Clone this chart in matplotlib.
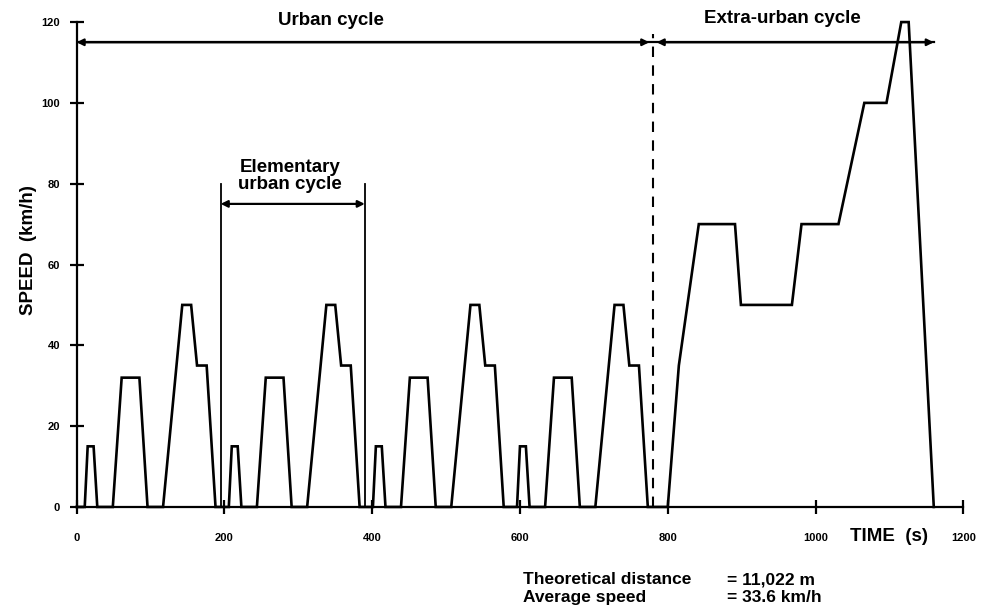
import matplotlib.pyplot as plt

plt.rcParams['font.family'] = ['Liberation Sans', 'DejaVu Sans']
plt.rcParams['font.weight'] = 'bold'

# ECE-15 elementary urban cycle (time s, speed km/h), repeated 4 times
ece_t = [0, 11, 15, 23, 28, 49, 61, 85, 96, 117, 143, 155, 163, 176, 188, 195]
ece_v = [0, 0, 15, 15, 0, 0, 32, 32, 0, 0, 50, 50, 35, 35, 0, 0]
n_ece = 4
ece_len = 195

# extra-urban cycle (EUDC)
eudc_t = [800, 815, 842, 891, 899, 968, 981, 1031, 1066, 1096, 1116, 1126, 1160]
eudc_v = [0, 35, 70, 70, 50, 50, 70, 70, 100, 100, 120, 120, 0]

time = []
speed = []
for k in range(n_ece):
    for t, v in zip(ece_t, ece_v):
        time.append(t + k * ece_len)
        speed.append(v)
time += eudc_t
speed += eudc_v

x_ticks = [0, 200, 400, 600, 800, 1000, 1200]
y_ticks = [0, 20, 40, 60, 80, 100, 120]
urban_end = 780
eudc_end = 1160
elem_start, elem_end = 195, 390

fig = plt.figure(figsize=(9.82, 6.13), dpi=100)
ax = fig.add_axes([0.078, 0.173, 0.903, 0.791])

ax.plot(time, speed, color='black', lw=1.9, clip_on=False, solid_joinstyle='miter')

ax.set_xlim(0, 1200)
ax.set_ylim(0, 120)
ax.spines['top'].set_visible(False)
ax.spines['right'].set_visible(False)
for s in ['left', 'bottom']:
    ax.spines[s].set_linewidth(1.6)
ax.set_xticks(x_ticks)
ax.set_yticks(y_ticks)
ax.set_xticklabels([str(v) for v in x_ticks], fontsize=8, fontweight='bold')
ax.set_yticklabels([str(v) for v in y_ticks], fontsize=8, fontweight='bold')
ax.tick_params(direction='inout', length=10, width=1.6)
ax.tick_params(axis='y', pad=7)
ax.tick_params(axis='x', pad=14)

ax.set_ylabel('SPEED  (km/h)', fontsize=13.5, fontweight='bold')
ax.yaxis.set_label_coords(-0.045, 0.53)
ax.text(1100, -7.3, 'TIME  (s)', fontsize=13.5, fontweight='bold',
        ha='center', va='center', clip_on=False)

# urban / extra-urban annotations
ax.plot([0, eudc_end], [115, 115], color='black', lw=1.6)
arr = dict(arrowstyle='<|-|>', color='black', lw=1.6, mutation_scale=10,
           shrinkA=0, shrinkB=0)
ax.annotate('', xy=(0, 115), xytext=(urban_end - 5, 115), arrowprops=arr)
ax.annotate('', xy=(urban_end + 5, 115), xytext=(eudc_end, 115), arrowprops=arr)
ax.plot([urban_end, urban_end], [0, 117], color='black', lw=1.5, ls=(0, (5, 4)))
ax.text(344, 120.5, 'Urban cycle', fontsize=13.5, fontweight='bold',
        ha='center', va='center', clip_on=False)
ax.text(955, 120.8, 'Extra-urban cycle', fontsize=13.5, fontweight='bold',
        ha='center', va='center', clip_on=False)

# elementary urban cycle
ax.plot([elem_start, elem_start], [0, 80], color='black', lw=1.3)
ax.plot([elem_end, elem_end], [0, 80], color='black', lw=1.3)
ax.annotate('', xy=(elem_start, 75), xytext=(elem_end, 75), arrowprops=arr)
ax.text(289, 82, 'Elementary\nurban cycle', fontsize=13.5,
        fontweight='bold', ha='center', va='center', linespacing=1.0)

# summary text
fig.text(0.533, 0.054, 'Theoretical distance', fontsize=12.5, fontweight='bold', va='center')
fig.text(0.533, 0.026, 'Average speed', fontsize=12.5, fontweight='bold', va='center')
fig.text(0.740, 0.054, '= 11,022 m', fontsize=12.5, fontweight='bold', va='center')
fig.text(0.740, 0.026, '= 33.6 km/h', fontsize=12.5, fontweight='bold', va='center')

fig.savefig('out.png', dpi=100)
